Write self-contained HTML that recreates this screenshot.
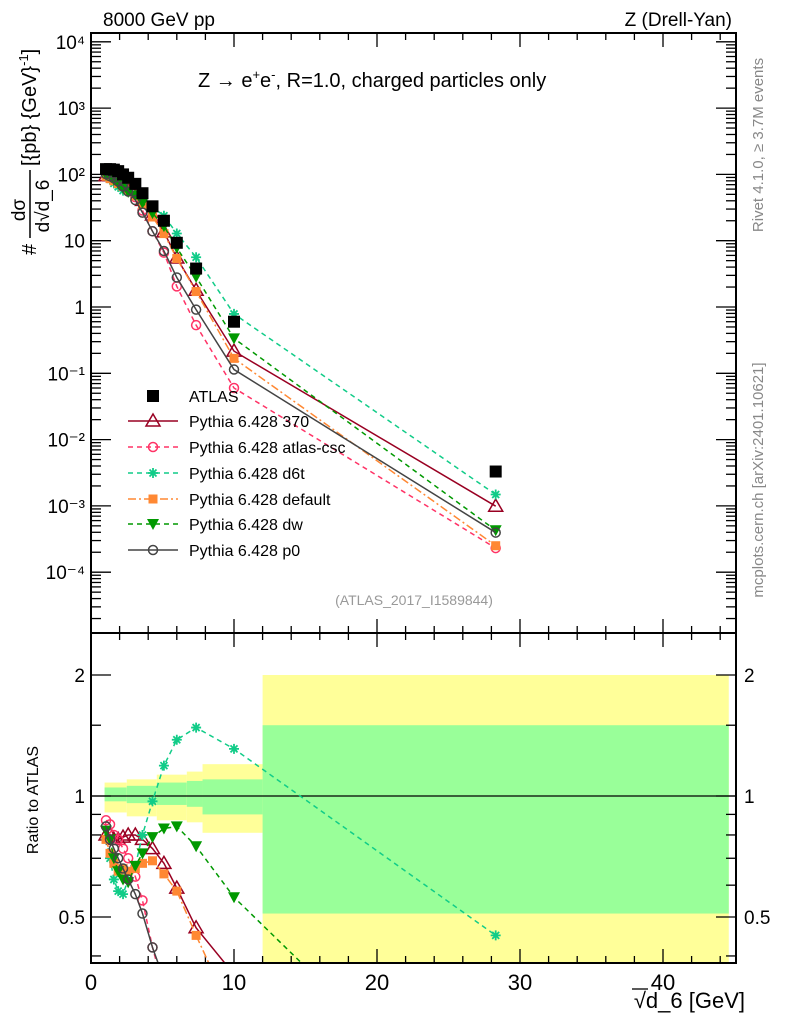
<!DOCTYPE html>
<html><head><meta charset="utf-8"><style>
html,body{margin:0;padding:0;background:#fff;overflow:hidden;width:786px;height:1024px;max-height:1024px}
svg{position:absolute;left:0;top:0;display:block;font-family:"Liberation Sans",sans-serif;overflow:hidden}
</style></head><body>
<svg id="c" width="786" height="1024" viewBox="0 0 786 1024" xmlns="http://www.w3.org/2000/svg">
<rect width="786" height="1024" fill="#fff"/>
<g id="bands"></g>
<g id="grid"></g>
<g id="series"></g>
<rect x="91" y="33" width="645" height="600" fill="none" stroke="#000" stroke-width="2"/>
<rect x="91" y="633" width="645" height="330" fill="none" stroke="#000" stroke-width="2"/>
<text x="103" y="26" font-size="19">8000 GeV pp</text>
<text x="732" y="26" font-size="19" text-anchor="end">Z (Drell-Yan)</text>
<text x="198" y="87" font-size="20">Z → e<tspan font-size="13" dy="-8">+</tspan><tspan dy="8">e</tspan><tspan font-size="13" dy="-8">-</tspan><tspan dy="8">, R=1.0, charged particles only</tspan></text>
<text x="414" y="605" font-size="14" fill="#999" text-anchor="middle">(ATLAS_2017_I1589844)</text>
<text transform="translate(763,145) rotate(-90)" font-size="15" fill="#888" text-anchor="middle">Rivet 4.1.0, ≥ 3.7M events</text>
<text transform="translate(763,480) rotate(-90)" font-size="15" fill="#888" text-anchor="middle">mcplots.cern.ch [arXiv:2401.10621]</text>
<g transform="translate(30,160) rotate(-90)">
<text x="-95" y="6" font-size="20">#</text>
<text x="-50" y="-5" font-size="19" text-anchor="middle">dσ</text>
<line x1="-78" y1="0" x2="-10" y2="0" stroke="#000" stroke-width="1.5"/>
<text x="-46" y="19" font-size="19" text-anchor="middle">d√d_6</text>
<text x="-6" y="6" font-size="20">[{pb} {GeV}<tspan font-size="13" dy="-8">-1</tspan><tspan dy="8">]</tspan></text>
</g>
<text transform="translate(38,800) rotate(-90)" font-size="16" text-anchor="middle">Ratio to ATLAS</text>
<text x="745" y="1008" font-size="22" text-anchor="end">√d_6 [GeV]</text>
<line x1="632" y1="989" x2="648" y2="989" stroke="#000" stroke-width="1.3"/>
<g id="legend"></g>
</svg>
<script>
const xBins=[1.05,1.33,1.6,1.9,2.24,2.6,3.1,3.6,4.3,5.1,6.0,7.35,10,28.3];
const atlasVals=[120,120,118,112,100,89,72,52,33,20,9.3,3.8,0.6,0.0033];
const r370=[0.80,0.80,0.78,0.78,0.79,0.80,0.80,0.78,0.74,0.68,0.59,0.47,0.36,0.30];
const rCsc=[0.87,0.85,0.80,0.78,0.74,0.70,0.63,0.55,0.42,0.33,0.22,0.14,0.10,0.07];
const rD6t=[0.78,0.70,0.62,0.58,0.57,0.62,0.67,0.80,0.97,1.19,1.38,1.48,1.31,0.45];
const rDef=[0.78,0.72,0.68,0.65,0.66,0.65,0.66,0.68,0.69,0.64,0.58,0.45,0.28,0.076];
const rDw=[0.82,0.78,0.70,0.65,0.62,0.61,0.67,0.72,0.79,0.83,0.84,0.75,0.56,0.13];
const rP0=[0.84,0.78,0.74,0.70,0.66,0.62,0.57,0.51,0.42,0.35,0.30,0.24,0.19,0.12];
const bandLo=[0.95,2.5,4.6,6.7,7.8,12];
const bandHi=[2.5,4.6,6.7,7.8,12,44.6];
const yelUp=[1.08,1.10,1.13,1.15,1.20,2.0];
const yelDn=[0.91,0.89,0.87,0.86,0.81,0.3];
const grnUp=[1.05,1.06,1.08,1.09,1.10,1.5];
const grnDn=[0.97,0.96,0.95,0.94,0.90,0.51];
const xTicks=[0,10,20,30,40];
const mainTicks=[4,3,2,1,0,-1,-2,-3,-4];
const mainTickLabels=['10⁴','10³','10²','10','1','10⁻¹','10⁻²','10⁻³','10⁻⁴'];
const ratioTicks=[2,1,0.5];

const NS='http://www.w3.org/2000/svg';
const X=v=>91+v*14.3;
const Y=v=>307-66.3*Math.log10(v);
const R=v=>796-121*Math.log2(v);
function el(t,a,p){const e=document.createElementNS(NS,t);for(const k in a)e.setAttribute(k,a[k]);document.getElementById(p).appendChild(e);return e;}

for(let i=0;i<bandLo.length;i++){
  const b=el('rect',{x:X(bandLo[i]),y:R(yelUp[i]),width:X(bandHi[i])-X(bandLo[i]),height:Math.min(963,R(yelDn[i]))-R(yelUp[i]),fill:'#ffff99'},'bands');
  
  
  const g=el('rect',{x:X(bandLo[i]),y:R(grnUp[i]),width:X(bandHi[i])-X(bandLo[i]),height:R(grnDn[i])-R(grnUp[i]),fill:'#99ff99'},'bands');
  
  
}
el('line',{x1:91,y1:R(1),x2:736,y2:R(1),stroke:'#000','stroke-width':1.3},'bands');

for(let v=0;v<=45;v+=2){const big=v%10==0;
  for(const [y0,s] of [[633,-1],[963,-1],[33,1],[633,1]]){
    el('line',{x1:X(v),x2:X(v),y1:y0,y2:y0+s*(big?14:7),stroke:'#000','stroke-width':1.3},'grid');}
}
xTicks.forEach(v=>{const t=el('text',{x:X(v),y:990,'font-size':22,'text-anchor':'middle'},'grid');t.textContent=v;
  });
mainTicks.forEach((p,i)=>{const y=Y(Math.pow(10,p));
  el('line',{x1:91,x2:111,y1:y,y2:y,stroke:'#000','stroke-width':1.3},'grid');
  el('line',{x1:736,x2:716,y1:y,y2:y,stroke:'#000','stroke-width':1.3},'grid');
  const t=el('text',{x:85,y:y+7,'font-size':19,'text-anchor':'end'},'grid');t.textContent=mainTickLabels[i];
  
  for(let m=2;m<=9;m++){const ym=Y(m*Math.pow(10,p-1));if(ym>633||ym<33)continue;
    el('line',{x1:91,x2:101,y1:ym,y2:ym,stroke:'#000','stroke-width':1.3},'grid');
    el('line',{x1:736,x2:726,y1:ym,y2:ym,stroke:'#000','stroke-width':1.3},'grid');}
});
for(let m=2;m<=9;m++){const ym=Y(m*1e4);if(ym>=33)el('line',{x1:91,x2:101,y1:ym,y2:ym,stroke:'#000','stroke-width':1.3},'grid');}
ratioTicks.forEach(v=>{const y=R(v);
  el('line',{x1:91,x2:111,y1:y,y2:y,stroke:'#000','stroke-width':1.3},'grid');
  el('line',{x1:736,x2:716,y1:y,y2:y,stroke:'#000','stroke-width':1.3},'grid');
  for(const [x,a] of [[85,'end'],[744,'start']]){const t=el('text',{x:x,y:y+7,'font-size':19,'text-anchor':a},'grid');t.textContent=v;
  }
});
[0.4,0.6,0.7,0.8,0.9,1.5].forEach(v=>{const y=R(v);
  el('line',{x1:91,x2:101,y1:y,y2:y,stroke:'#000','stroke-width':1.3},'grid');
  el('line',{x1:736,x2:726,y1:y,y2:y,stroke:'#000','stroke-width':1.3},'grid');});

function marker(type,x,y,c,p){
  let e;
  if(type=='sq')e=el('rect',{x:x-6,y:y-6,width:12,height:12,fill:c},p);
  else if(type=='fsq')e=el('rect',{x:x-4.5,y:y-4.5,width:9,height:9,fill:c},p);
  else if(type=='tri')e=el('polygon',{points:`${x},${y-7} ${x-7},${y+5} ${x+7},${y+5}`,fill:'none',stroke:c,'stroke-width':1.5},p);
  else if(type=='dtri')e=el('polygon',{points:`${x},${y+6} ${x-6},${y-5} ${x+6},${y-5}`,fill:c},p);
  else if(type=='circ')e=el('circle',{cx:x,cy:y,r:4.5,fill:'none',stroke:c,'stroke-width':1.5},p);
  else {const d=5,q=3.5;e=el('path',{d:`M${x-d},${y}H${x+d}M${x},${y-d}V${y+d}M${x-q},${y-q}L${x+q},${y+q}M${x-q},${y+q}L${x+q},${y-q}`,stroke:c,'stroke-width':1.8,fill:'none'},p);}
  return e;
}
const series=[
 {n:'Pythia 6.428 370',r:r370,c:'#990022',m:'tri',d:''},
 {n:'Pythia 6.428 atlas-csc',r:rCsc,c:'#ff3366',m:'circ',d:'5,4'},
 {n:'Pythia 6.428 d6t',r:rD6t,c:'#11cc88',m:'star',d:'5,4'},
 {n:'Pythia 6.428 default',r:rDef,c:'#ff8833',m:'fsq',d:'8,3,2,3'},
 {n:'Pythia 6.428 dw',r:rDw,c:'#009900',m:'dtri',d:'5,4'},
 {n:'Pythia 6.428 p0',r:rP0,c:'#444444',m:'circ',d:''}];
const clip=el('clipPath',{id:'cr'},'series');el('rect',{x:91,y:633,width:645,height:330},'cr');
const clipm=el('clipPath',{id:'cm'},'series');el('rect',{x:91,y:33,width:645,height:600},'cm');
const gm=el('g',{'clip-path':'url(#cm)',id:'gm'},'series');
const gr=el('g',{'clip-path':'url(#cr)',id:'gr'},'series');
series.forEach(s=>{
  const mp=xBins.map((x,i)=>X(x)+','+Y(atlasVals[i]*s.r[i])).join(' ');
  const l=el('polyline',{points:mp,fill:'none',stroke:s.c,'stroke-width':1.5,'stroke-dasharray':s.d},'gm');
  
  const rp=xBins.map((x,i)=>X(x)+','+R(s.r[i])).join(' ');
  const l2=el('polyline',{points:rp,fill:'none',stroke:s.c,'stroke-width':1.5,'stroke-dasharray':s.d},'gr');
  
  xBins.forEach((x,i)=>{
    const a=marker(s.m,X(x),Y(atlasVals[i]*s.r[i]),s.c,'gm');
    
    const b=marker(s.m,X(x),R(s.r[i]),s.c,'gr');
    
  });
});
xBins.forEach((x,i)=>{const a=marker('sq',X(x),Y(atlasVals[i]),'#000','gm');
  });

const ly=[396,421,447,473,499,524,550];
let m0=marker('sq',153,ly[0],'#000','legend');
let t0=el('text',{x:189,y:ly[0]+6,'font-size':16},'legend');t0.textContent='ATLAS';

series.forEach((s,i)=>{const y=ly[i+1];
  el('line',{x1:128,x2:178,y1:y,y2:y,stroke:s.c,'stroke-width':1.5,'stroke-dasharray':s.d},'legend');
  marker(s.m,153,y,s.c,'legend');
  const t=el('text',{x:189,y:y+6,'font-size':16},'legend');t.textContent=s.n;
  
});
</script>
</body></html>
